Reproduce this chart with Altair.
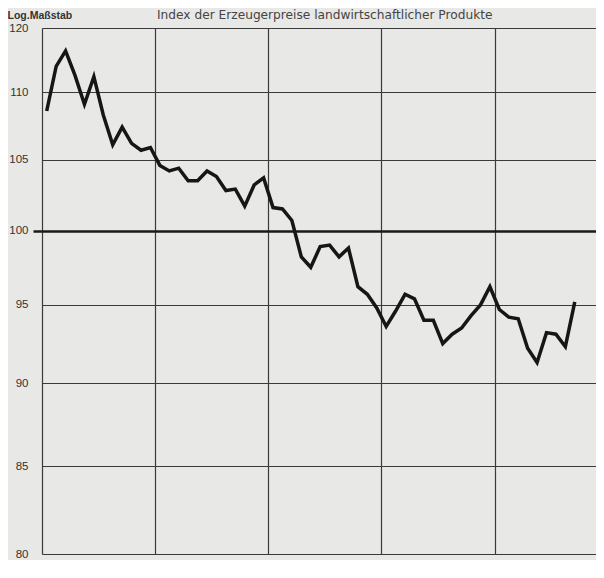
import altair as alt
import pandas as pd

# Monthly index values (log scale chart)
months = list(range(57))
values = [108.6, 112.0, 113.2, 111.3, 109.1, 111.2, 108.3, 106.1, 107.4, 106.2, 105.7, 105.9,
          104.6, 104.2, 104.4, 103.5, 103.5, 104.2, 103.8, 102.8, 102.9, 101.7, 103.2, 103.7,
          101.6, 101.5, 100.7, 98.2, 97.5, 98.9, 99.0, 98.2, 98.8, 96.2, 95.7, 94.8,
          93.6, 94.6, 95.7, 95.4, 94.0, 94.0, 92.5, 93.1, 93.5, 94.3, 95.0, 96.2,
          94.7, 94.2, 94.1, 92.2, 91.3, 93.2, 93.1, 92.3, 95.2]
y_ticks = [80, 85, 90, 95, 100, 105, 110, 115]
year_bounds = [0, 12, 24, 36, 48]
title_text = ["Index der Erzeugerpreise landwirtschaftlicher Produkte"]

df = pd.DataFrame({"month": months, "index": values})
tdf = pd.DataFrame({"label": title_text})

line = alt.Chart(df).transform_calculate(
    pos="datum.month + 0.5"
).mark_line(color="#161616", strokeWidth=3.5, strokeJoin="miter").encode(
    x=alt.X("pos:Q",
            scale=alt.Scale(domain=[0, 58.75], nice=False, zero=False),
            axis=alt.Axis(values=year_bounds, labels=False, ticks=False, domain=False,
                          grid=True, gridColor="#3a3a3a", gridWidth=1.2, gridOpacity=1,
                          title=None)),
    y=alt.Y("index:Q",
            scale=alt.Scale(type="log", domain=[80, 115], nice=False, zero=False),
            axis=alt.Axis(values=y_ticks,
                          labelExpr="datum.value == 115 ? '120' : format(datum.value, 'd')",
                          labelFont="Liberation Sans", labelFontSize=11.5, labelColor="#333333",
                          labelPadding=5, tickSize=9, tickColor="#1a1a1a", tickWidth=2.5,
                          tickOpacity={"condition": {"test": "datum.value === 100", "value": 1}, "value": 0},
                          domain=False, grid=True, gridOpacity=1,
                          gridColor={"condition": {"test": "datum.value === 100", "value": "#1a1a1a"}, "value": "#3a3a3a"},
                          gridWidth={"condition": {"test": "datum.value === 100", "value": 2.5}, "value": 1.2},
                          title="Log.Maßstab", titleAngle=0, titleAlign="left",
                          titleBaseline="alphabetic", titleX=-35, titleY=-10,
                          titleFont="Liberation Sans", titleFontSize=10.5,
                          titleFontWeight="bold", titleColor="#333333"))
)

title = alt.Chart(tdf).mark_text(
    align="left", baseline="alphabetic", font="DejaVu Sans", fontSize=12.2,
    color="#444444"
).encode(
    x=alt.value(115), y=alt.value(-9), text="label:N"
)

chart = alt.layer(line, title).properties(
    width=554,
    height=526,
    autosize=alt.AutoSizeParams(type="none"),
    padding={"left": 34, "top": 20, "right": 0, "bottom": 6},
    background="#e8e8e6",
).configure_view(stroke=None)

chart.save("out.html", embed_options={"renderer": "svg", "actions": False})
